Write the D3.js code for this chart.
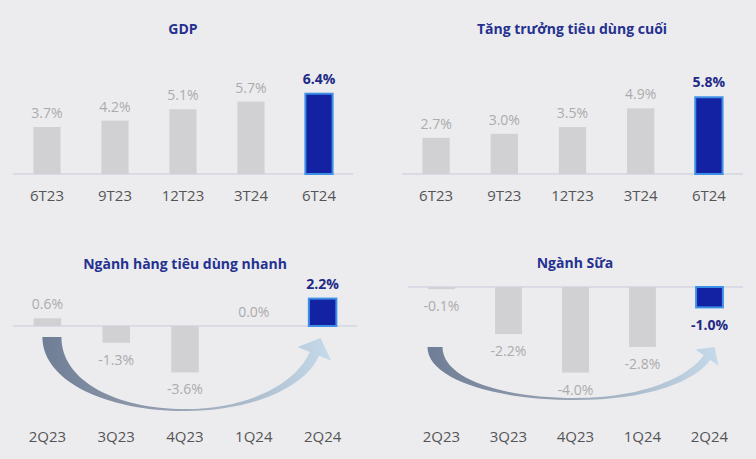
<!DOCTYPE html>
<html><head><meta charset="utf-8">
<script src="https://cdn.jsdelivr.net/npm/d3@7"></script>
<style>
html,body{margin:0;padding:0;background:#ececef;}
svg{display:block;}
</style></head>
<body>
<svg id="c" width="756" height="459"></svg>
<script>
// ---- data ----
const gdpCats = ["6T23","9T23","12T23","3T24","6T24"];
const gdpVals = [3.7, 4.2, 5.1, 5.7, 6.4];
const consCats = ["6T23","9T23","12T23","3T24","6T24"];
const consVals = [2.7, 3.0, 3.5, 4.9, 5.8];
const fmcgCats = ["2Q23","3Q23","4Q23","1Q24","2Q24"];
const fmcgVals = [0.6, -1.3, -3.6, 0.0, 2.2];
const dairyCats = ["2Q23","3Q23","4Q23","1Q24","2Q24"];
const dairyVals = [-0.1, -2.2, -4.0, -2.8, -1.0];
const titles = ["GDP", "Tăng trưởng tiêu dùng cuối", "Ngành hàng tiêu dùng nhanh", "Ngành Sữa"];

const svg = d3.select("#c");
const FONT = "'Open Sans', sans-serif";
const fmt = v => d3.format(".1f")(v).replace("\u2212", "-") + "%";

const defs = svg.append("defs");
const grad = defs.append("linearGradient").attr("id","ag").attr("x1","0%").attr("x2","100%").attr("y1","0%").attr("y2","0%");
grad.append("stop").attr("offset","0%").attr("stop-color","#687891");
grad.append("stop").attr("offset","45%").attr("stop-color","#929dae");
grad.append("stop").attr("offset","100%").attr("stop-color","#c3d9ea");

function panel(cfg){
  const g = svg.append("g");
  const x = d3.scaleBand().domain(cfg.cats).range([cfg.x0, cfg.x1]).paddingInner(0.6).paddingOuter(0.3);
  const y = d3.scaleLinear().domain([0, 1]).range([cfg.base, cfg.base - cfg.ppu]);
  const bw = x.bandwidth();
  const last = cfg.cats.length - 1;

  // arrow
  if (cfg.arrow) {
    const a = cfg.arrow;
    const xL = x(cfg.cats[0]) + bw/2 + a.dxStart;
    const yTop = cfg.base + a.dyStart;
    const bx = x(cfg.cats[2]) + bw/2;
    const by = cfg.base + a.dyBottom;
    const tx = x(cfg.cats[last]) + bw/2 + a.dxTip;
    const ty = cfg.base + a.dyTip;
    let dx = a.dir[0], dy = a.dir[1];
    const L = Math.hypot(dx, dy); dx/=L; dy/=L;
    const nx = -dy, ny = dx;
    const hl = a.hl, hw = a.hw, sw = a.sw, w0 = a.w0;
    const bcx = tx - dx*hl, bcy = ty - dy*hl;
    const O = [bcx + nx*sw/2, bcy + ny*sw/2];
    const I = [bcx - nx*sw/2, bcy - ny*sw/2];
    const RB = [bcx + nx*hw, bcy + ny*hw];
    const LB = [bcx - nx*hw, bcy - ny*hw];
    const k = a.k;
    const p = d3.path();
    p.moveTo(xL, yTop);
    p.bezierCurveTo(xL, yTop + (by-yTop)*0.6, xL + (bx-xL)*0.45, by, bx, by);
    p.bezierCurveTo(bx + (O[0]-bx)*0.55, by, O[0]-dx*k, O[1]-dy*k, O[0], O[1]);
    p.lineTo(RB[0], RB[1]);
    p.lineTo(tx, ty);
    p.lineTo(LB[0], LB[1]);
    p.lineTo(I[0], I[1]);
    const ib = by - 2;
    p.bezierCurveTo(I[0]-dx*k, I[1]-dy*k, bx + (I[0]-bx)*0.55, ib, bx, ib);
    p.bezierCurveTo(xL + w0 + (bx-xL-w0)*0.45, ib, xL + w0, yTop + (by-yTop)*0.6, xL + w0, yTop);
    p.closePath();
    g.append("path").attr("d", p.toString()).attr("fill","url(#ag)").attr("opacity",0.95);
  }

  // axis line
  g.append("line").attr("x1", cfg.x0).attr("x2", cfg.x1).attr("y1", cfg.base).attr("y2", cfg.base)
    .attr("stroke","#c9c9dc").attr("stroke-width",1);

  // bars
  cfg.vals.forEach((v,i)=>{
    const hi = i === last;
    const top = Math.min(y(v), y(0)), h = Math.abs(y(v) - y(0));
    g.append("rect")
      .attr("x", x(cfg.cats[i]))
      .attr("y", top + (hi ? (v>=0?1:0) : 0))
      .attr("width", bw)
      .attr("height", Math.max(hi ? h-1 : h, 0))
      .attr("fill", hi ? "#1321a3" : "#d1d1d3")
      .attr("stroke", hi ? "#3d8fe6" : "none")
      .attr("stroke-width", hi ? 2 : 0);
    const cx = x(cfg.cats[i]) + bw/2;
    const ly = v >= 0 ? y(v) - 9 : y(v) + 22;
    g.append("text").attr("x", cx).attr("y", ly).attr("text-anchor","middle")
      .attr("font-family", FONT).attr("font-size", 14)
      .attr("font-weight", hi ? 700 : 400)
      .attr("fill", hi ? "#1e2a86" : "#ababab")
      .text(fmt(v));
    g.append("text").attr("x", cx).attr("y", cfg.catY).attr("text-anchor","middle")
      .attr("font-family", FONT).attr("font-size", 15).attr("fill","#555555")
      .text(cfg.cats[i]);
  });

  g.append("text").attr("x", cfg.tx).attr("y", cfg.ty).attr("text-anchor","middle")
    .attr("font-family", FONT).attr("font-size", 14).attr("font-weight", 700)
    .attr("fill", "#25318f").text(cfg.title);
}

panel({cats: gdpCats, vals: gdpVals, title: titles[0], x0: 13, x1: 353, base: 174, ppu: 12.7, catY: 201, tx: 183, ty: 34});
panel({cats: consCats, vals: consVals, title: titles[1], x0: 402, x1: 743, base: 174, ppu: 13.4, catY: 201, tx: 572, ty: 34});
panel({cats: fmcgCats, vals: fmcgVals, title: titles[2], x0: 13, x1: 357, base: 326, ppu: 12.9, catY: 442, tx: 185, ty: 269,
  arrow: {dxStart: -5, w0: 19, dyStart: 11, dyBottom: 85, dxTip: -2, dyTip: 12, dir: [0.4, -1], hl: 17, hw: 18, sw: 10, k: 30}});
panel({cats: dairyCats, vals: dairyVals, title: titles[3], x0: 408, x1: 743, base: 287, ppu: 21.4, catY: 442, tx: 575, ty: 268,
  arrow: {dxStart: -14, w0: 15, dyStart: 60, dyBottom: 113, dxTip: 5, dyTip: 60, dir: [0.7, -1], hl: 13, hw: 14, sw: 8, k: 25}});
</script>
</body></html>
